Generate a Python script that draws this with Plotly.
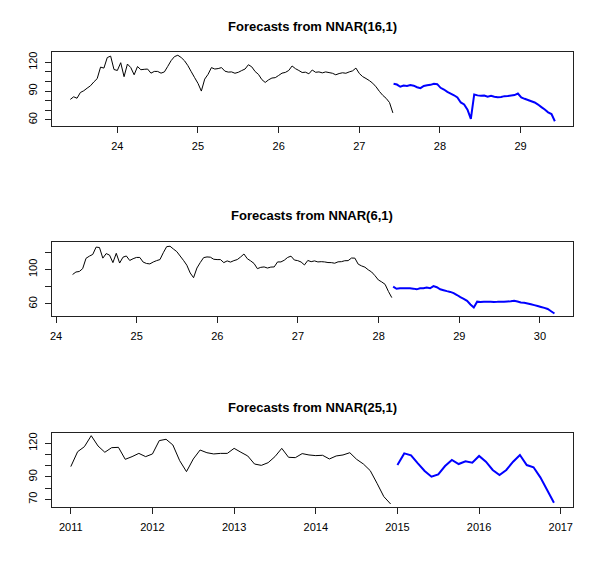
"""
NNAR forecast panels (R forecast::plot style)
"""

import numpy as np
import plotly.graph_objects as go

# --- NNAR(16,1): 24 obs per unit ---
freq = 24
nn16_start = 23.4167
nn16_fc_start = 27.425
nn16_hist = [
    81.3, 84, 82.5, 88.5, 90.3, 93, 95.5, 99.5, 103, 115, 114, 125, 126.5, 112.5,
    111.5, 119.6, 105, 118.2, 114.5, 107, 115.6, 112.3, 112.7, 113, 108.7, 110.5,
    110.5, 108.7, 110, 115.8, 121.8, 126, 127.4, 125, 121.6, 116.5, 110.2, 104, 98,
    90, 102.5, 107.5, 114.5, 113, 113.5, 114.5, 110.8, 109.8,
    110, 108.6, 109.6, 111.4, 113, 117.5, 115.3, 110.4, 107.4, 102, 99, 101.7,
    103.6, 104, 106.3, 108.7, 109.5, 111.5, 116.2, 113.4, 111.5, 109.4, 109.7, 108,
    112, 109.6, 110, 109, 110, 109.3, 108.6, 107, 108.3, 109.1, 108.6, 110, 111.1,
    114, 108.4, 105.1, 103.1, 100.9, 98.2, 94.4, 89.6, 85.5, 82.4, 78, 67.2,
]
nn16_fc = [
    97.6, 96.8, 94.5, 95.8, 95.4, 96.2, 95.6, 94, 93, 95.4, 96.1, 96.5, 97.7, 97.2,
    93.4, 91.6, 89.1, 87.4, 85.6, 83.3, 78.1, 76, 70.5, 61, 86.5, 85.5, 85, 85.4,
    84.2, 85, 84.1, 83.5, 83.9, 84.7, 84.8, 85.4, 85.8, 87.4, 83.3, 81.9, 80.7,
    79.4, 78.1, 75.9, 73.2, 70.7, 67.8, 66, 58.5,
]

# --- NNAR(6,1) ---
nn6_start = 24.205
nn6_fc_start = 28.18
nn6_hist = [
    94.2, 97.1, 97.7, 101, 113, 115.5, 117.5, 126, 125.5, 113.2, 118.5, 116.7, 108,
    118.8, 107.5, 114.3, 115.7, 110.5, 112.5, 114, 114, 108.6, 107, 106.5, 108.7,
    110.3, 111.5, 119.5, 126.5, 127, 123.8, 120.8, 115.7, 110.6, 105, 96, 90.5,
    101.7, 108.1, 113.8, 114.6, 114.3, 111.9, 111.5, 111.5, 108, 110,
    108.6, 110.3, 111.5, 114.5, 118, 112.5, 110, 107, 101, 102.5, 103, 101.7, 102.8,
    103, 108.8, 108.8, 110.8, 114, 115.5, 111, 110.3, 108.7, 105.3, 110.5, 109.1,
    110, 108.8, 109.1, 108.8, 108.1, 108, 107.3, 108.9, 109.1, 110.2, 110.3, 113.3,
    113.2, 106.2, 104.2, 102.7, 99.6, 97.1, 92.8, 87.9, 85.6, 82.8, 74.5, 67.4,
]
nn6_fc = [
    80.1, 77.6, 78.2, 78.2, 78.2, 78.2, 77.8, 77, 78.2, 78.2, 79, 78.2, 80.8, 79.4,
    77.1, 76, 74.9, 74, 72.6, 70.4, 67.9, 66, 63.7, 59.5, 56, 62.7, 62.3, 62.6,
    62.7, 62.7, 62.4, 62.5, 62.7, 62.7, 62.9, 63.1, 63.7, 62.8, 61.8, 61.4, 60.6,
    59.7, 58.7, 57.7, 56.6, 55.5, 54.2, 51.6, 49,
]

# --- NNAR(25,1): monthly ---
nn25_start = 2011
nn25_fc_start = 2015
nn25_hist = [
    99.2, 112.5, 117, 126.8, 117.6, 112, 116.1, 116.4, 105.7, 108.1, 111, 108.1,
    110.5, 122.4, 123.6, 118.5, 104.5, 94.7, 106, 114, 111.6, 110.5, 111, 111,
    115.5, 112, 108.7, 101.5, 100.3, 102.7, 108.1, 115.5, 107.5, 107.2, 110.8, 109.6,
    109, 109.3, 106, 108.7, 109.6, 111.6, 105.7, 101.5, 95.6, 84.3, 72.4, 65.8,
]
nn25_fc = [
    100.6, 111, 109.3, 102.1, 95.3, 90.2, 92.3, 99.7, 105.1, 101.5, 103.9, 102.7,
    108.7, 103.6, 96.2, 91.7, 96.2, 103.6, 109.6, 100.6, 98.6, 89.6, 78.3, 67,
]

titles = [
    "Forecasts from NNAR(16,1)",
    "Forecasts from NNAR(6,1)",
    "Forecasts from NNAR(25,1)",
]

x_ticks_1 = [24, 25, 26, 27, 28, 29]
x_ticks_2 = [24, 25, 26, 27, 28, 29, 30]
x_ticks_3 = [2011, 2012, 2013, 2014, 2015, 2016, 2017]

y_ticks_1 = [60, 70, 80, 90, 100, 110, 120]
y_labels_1 = ["60", "", "", "90", "", "", "120"]
y_ticks_2 = [60, 80, 100, 120]
y_labels_2 = ["60", "", "100", ""]
y_ticks_3 = [70, 80, 90, 100, 110, 120]
y_labels_3 = ["70", "", "90", "", "", "120"]

FONT = "Liberation Sans, Arial, Helvetica, sans-serif"


def ts_index(start, n, frequency):
    """ts() 같은 시간 인덱스"""
    return start + np.arange(n) / frequency


def axis_style(**kw):
    """R base graphics 느낌의 축"""
    base = dict(
        showline=True, mirror=True, linecolor="#222222", linewidth=1,
        ticks="outside", ticklen=6, tickcolor="#222222", tickwidth=1,
        showgrid=False, zeroline=False, ticklabelstandoff=4, automargin=False,
        tickfont=dict(family=FONT, size=11, color="black"),
    )
    base.update(kw)
    return base


panels = [
    dict(hist=nn16_hist, fc=nn16_fc, start=nn16_start, fc_start=nn16_fc_start, freq=freq,
         xr=[23.19, 29.65], yr=[53.5, 130.8], xt=x_ticks_1, yt=y_ticks_1, yl=y_labels_1,
         ydom=[0.7797, 0.9091], ty=0.9537),
    dict(hist=nn6_hist, fc=nn6_fc, start=nn6_start, fc_start=nn6_fc_start, freq=freq,
         xr=[23.95, 30.41], yr=[46.1, 131.9], xt=x_ticks_2, yt=y_ticks_2, yl=y_labels_2,
         ydom=[0.4476, 0.5769], ty=0.6224),
    dict(hist=nn25_hist, fc=nn25_fc, start=nn25_start, fc_start=nn25_fc_start, freq=12,
         xr=[2010.77, 2017.15], yr=[63.1, 129.2], xt=x_ticks_3, yt=y_ticks_3, yl=y_labels_3,
         ydom=[0.1136, 0.2430], ty=0.2876),
]

fig = go.Figure()
layout = {}
annotations = []

for k, p in enumerate(panels, start=1):
    xa = "x" if k == 1 else f"x{k}"
    ya = "y" if k == 1 else f"y{k}"
    fig.add_trace(go.Scatter(
        x=ts_index(p["start"], len(p["hist"]), p["freq"]), y=p["hist"],
        mode="lines", line=dict(color="black", width=1, simplify=False),
        xaxis=xa, yaxis=ya, showlegend=False,
    ))
    fig.add_trace(go.Scatter(
        x=ts_index(p["fc_start"], len(p["fc"]), p["freq"]), y=p["fc"],
        mode="lines", line=dict(color="#0000ff", width=2, simplify=False),
        xaxis=xa, yaxis=ya, showlegend=False,
    ))
    xkey = "xaxis" if k == 1 else f"xaxis{k}"
    ykey = "yaxis" if k == 1 else f"yaxis{k}"
    layout[xkey] = axis_style(domain=[0.0867, 0.955], range=p["xr"], anchor=ya,
                              tickmode="array", tickvals=p["xt"],
                              ticktext=[str(v) for v in p["xt"]])
    layout[ykey] = axis_style(domain=p["ydom"], range=p["yr"], anchor=xa,
                              tickmode="array", tickvals=p["yt"], ticktext=p["yl"],
                              tickangle=-90)
    annotations.append(dict(
        text=f"<b>{titles[k - 1]}</b>", xref="paper", yref="paper",
        x=0.5208, y=p["ty"], xanchor="center", yanchor="middle", showarrow=False,
        font=dict(family=FONT, size=13, color="black"),
    ))

fig.update_layout(
    width=600, height=572,
    margin=dict(l=0, r=0, t=0, b=0),
    paper_bgcolor="white", plot_bgcolor="white",
    font=dict(family=FONT, size=11, color="black"),
    annotations=annotations,
    **layout,
)

# 브라우저 기본 body 여백 제거, 툴바 숨김
fig.write_html(
    "out.html",
    config={"displayModeBar": False},
    post_script="document.body.style.margin = '0';",
)
